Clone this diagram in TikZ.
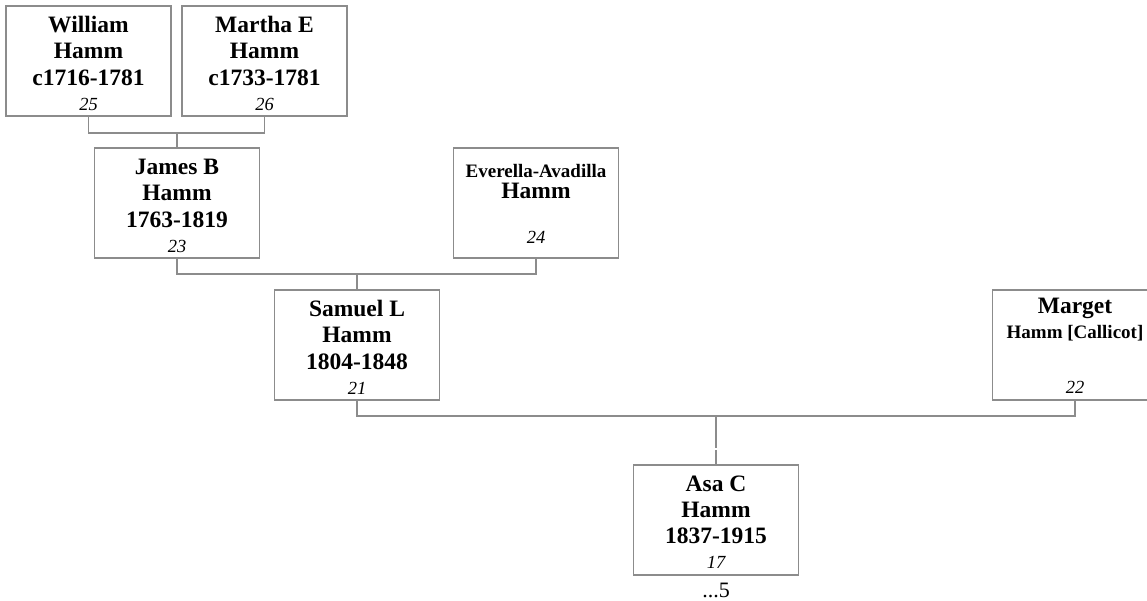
\documentclass[tikz,border=0pt]{standalone}
\usepackage{fontspec}
\setmainfont{Liberation Serif}
\usepackage{tikz}
\usetikzlibrary{positioning}

\definecolor{linegray}{HTML}{8C8C8C}

\tikzset{
  person/.style={draw=linegray,line width=1.5pt,minimum width=165pt,minimum height=110pt,inner sep=0pt},
  link/.style={draw=linegray,line width=1.5pt},
  namebig/.style={anchor=base,inner sep=0pt,font=\fontsize{23.5}{26}\selectfont\bfseries},
  namesmall/.style={anchor=base,inner sep=0pt,font=\fontsize{19}{22}\selectfont\bfseries},
  idnum/.style={anchor=base,inner sep=0pt,font=\fontsize{18.5}{20}\selectfont\itshape},
}

\begin{document}
\begin{tikzpicture}[x=1pt,y=-1pt]
\clip (0,0) rectangle (1147,600);
\fill[white] (0,0) rectangle (1147,600);

% boxes
\node[person] (william) at (88.5,61) {};
\node[person] (martha) at (264.5,61) {};
\node[person] (james) at (177,203) {};
\node[person] (everella) at (536,203) {};
\node[person] (samuel) at (357,345) {};
\node[person] (marget) at (1075,345) {};
\node[person] (asa) at (716,520) {};

% texts
\node[namebig] (william1) at (88.5,32) {William};
\node[namebig] (william2) at (88.5,58) {Hamm};
\node[namebig] (william3) at (88.5,85) {c1716-1781};
\node[idnum] (william4) at (88.5,110) {25};

\node[namebig] (martha1) at (264.5,32) {Martha E};
\node[namebig] (martha2) at (264.5,58) {Hamm};
\node[namebig] (martha3) at (264.5,85) {c1733-1781};
\node[idnum] (martha4) at (264.5,110) {26};

\node[namebig] (james1) at (177,174) {James B};
\node[namebig] (james2) at (177,200) {Hamm};
\node[namebig] (james3) at (177,227) {1763-1819};
\node[idnum] (james4) at (177,252) {23};

\node[namesmall] (everella1) at (536,177) {Everella-Avadilla};
\node[namebig] (everella2) at (536,198) {Hamm};
\node[idnum] (everella4) at (536,243) {24};

\node[namebig] (samuel1) at (357,316) {Samuel L};
\node[namebig] (samuel2) at (357,342) {Hamm};
\node[namebig] (samuel3) at (357,369) {1804-1848};
\node[idnum] (samuel4) at (357,394) {21};

\node[namebig] (marget1) at (1075,313) {Marget};
\node[namesmall] (marget2) at (1075,338) {Hamm [Callicot]};
\node[idnum] (marget4) at (1075,393) {22};

\node[namebig] (asa1) at (716,491) {Asa C};
\node[namebig] (asa2) at (716,517) {Hamm};
\node[namebig] (asa3) at (716,543) {1837-1915};
\node[idnum] (asa4) at (716,568) {17};
\node[anchor=base,inner sep=0pt,font=\fontsize{22}{24}\selectfont] (more) at (716,597) {...5};

% connectors
\coordinate (j1) at (177,133);
\draw[link] (william.south) |- (j1) -| (martha.south);
\draw[link] (j1) -- (james.north);
\coordinate (j2) at (357,274);
\draw[link] (james.south) |- (j2) -| (everella.south);
\draw[link] (j2) -- (samuel.north);
\coordinate (j3) at (716,416);
\coordinate (gap1) at (716,448);
\coordinate (gap2) at (716,450);
\draw[link] (samuel.south) |- (j3) -| (marget.south);
\draw[link] (j3) -- (gap1);
\draw[link] (gap2) -- (asa.north);
\end{tikzpicture}
\end{document}
